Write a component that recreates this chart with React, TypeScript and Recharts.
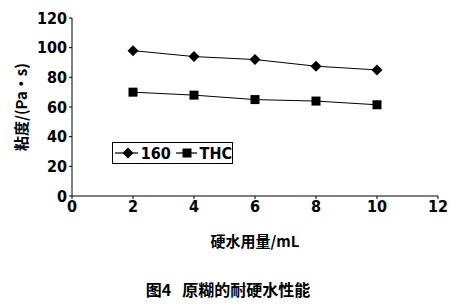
import { LineChart, Line, XAxis, YAxis, Legend } from "recharts";

const hardWater = [2, 4, 6, 8, 10];
const visc160 = [98, 94, 92, 87.5, 85];
const viscTHC = [70, 68, 65, 64, 61.5];
const xTicks = [0, 2, 4, 6, 8, 10, 12];
const yTicks = [0, 20, 40, 60, 80, 100, 120];

const data = hardWater.map((x, i) => ({ x, s160: visc160[i], thc: viscTHC[i] }));

const narrow = "'Liberation Sans Narrow', 'DejaVu Sans Condensed', Arial, sans-serif";
const tickFont = { fill: "#000", fontSize: 16, fontFamily: narrow, fontWeight: 600 };
const cjk = "'Noto Sans CJK SC', sans-serif";

const Diamond = (props: any) => {
  const { cx, cy } = props;
  if (cx == null || cy == null) return null;
  const r = 5.5;
  return (
    <polygon
      points={`${cx},${cy - r} ${cx + r},${cy} ${cx},${cy + r} ${cx - r},${cy}`}
      fill="#000"
    />
  );
};

const Square = (props: any) => {
  const { cx, cy } = props;
  if (cx == null || cy == null) return null;
  return <rect x={cx - 4.5} y={cy - 4.5} width={9} height={9} fill="#000" />;
};

const LegendBox = () => (
  <div
    style={{
      width: 121,
      height: 22,
      border: "1px solid #000",
      display: "flex",
      alignItems: "center",
      fontFamily: narrow,
      fontSize: 16,
      fontWeight: 600,
      boxSizing: "border-box",
    }}
  >
    <svg width={26} height={12} style={{ marginLeft: 2 }}>
      <line x1={0} y1={6} x2={24} y2={6} stroke="#000" strokeWidth={1.2} />
      <Diamond cx={13} cy={6} />
    </svg>
    <span style={{ marginLeft: 3 }}>160</span>
    <svg width={24} height={12} style={{ marginLeft: 5 }}>
      <line x1={0} y1={6} x2={22} y2={6} stroke="#000" strokeWidth={1.2} />
      <Square cx={11} cy={6} />
    </svg>
    <span style={{ marginLeft: 3 }}>THC</span>
  </div>
);

export default function App() {
  return (
    <div style={{ position: "absolute", left: 0, top: 0, width: 458, height: 305, background: "#fff" }}>
      <LineChart width={458} height={305} data={data} margin={{ top: 18, right: 20, left: 12, bottom: 79 }}>
        <XAxis
          dataKey="x"
          type="number"
          domain={[0, 12]}
          ticks={xTicks}
          tick={tickFont}
          tickSize={3}
          height={30}
          stroke="#000"
          label={{
            value: "硬水用量/mL",
            position: "bottom",
            offset: 10,
            style: { fill: "#000", fontSize: 15, fontFamily: cjk, fontWeight: 600 },
          }}
        />
        <YAxis
          type="number"
          domain={[0, 120]}
          ticks={yTicks}
          tick={tickFont}
          tickSize={3}
          width={60}
          stroke="#000"
          label={{
            value: "粘度/(Pa·s)",
            angle: -90,
            position: "insideLeft",
            offset: 10,
            style: { textAnchor: "middle", fill: "#000", fontSize: 15, fontFamily: cjk, fontWeight: 600 },
          }}
        />
        <Legend
          verticalAlign="middle"
          align="center"
          content={<LegendBox />}
          wrapperStyle={{ position: "absolute", left: 112, top: 142, width: 121, height: 22 }}
        />
        <Line dataKey="s160" stroke="#000" strokeWidth={1} dot={<Diamond />} isAnimationActive={false} />
        <Line dataKey="thc" stroke="#000" strokeWidth={1} dot={<Square />} isAnimationActive={false} />
      </LineChart>
      <div
        style={{
          position: "absolute",
          left: 0,
          width: 458,
          top: 277,
          textAlign: "center",
          fontFamily: cjk,
          fontSize: 16,
          fontWeight: 600,
          color: "#000",
          paddingRight: 2,
          boxSizing: "border-box",
        }}
      >
        图4&nbsp;&nbsp;&nbsp;原糊的耐硬水性能
      </div>
    </div>
  );
}
